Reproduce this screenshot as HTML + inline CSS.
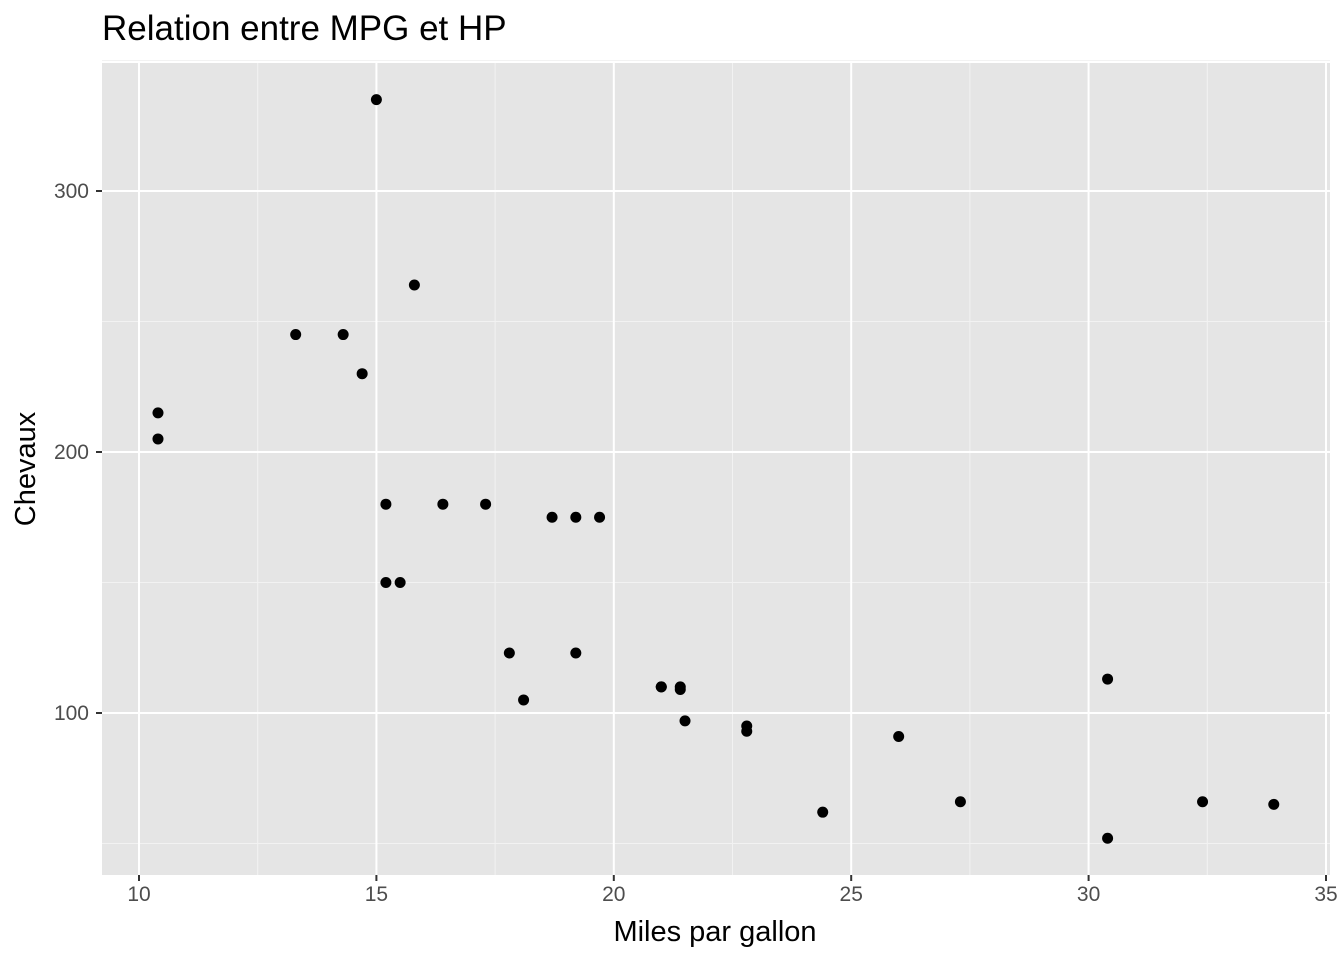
<!DOCTYPE html>
<html><head><meta charset="utf-8"><style>
body{margin:0;background:#fff;}
svg{display:block;font-family:"Liberation Sans",Arial,sans-serif;}
</style></head><body>
<svg id="chart" width="1344" height="960" viewBox="0 0 1344 960">
<text x="102" y="40" font-size="35" fill="#000">Relation entre MPG et HP</text>
<rect x="102" y="63" width="1228" height="812" fill="#e5e5e5"/>
<g id="grid"></g><g id="points"></g><g id="axes"></g>
<text x="715" y="941" font-size="29" text-anchor="middle">Miles par gallon</text>
<text transform="translate(35,469) rotate(-90)" font-size="29" text-anchor="middle">Chevaux</text>
</svg>
<script>
const mpg=[21,21,22.8,21.4,18.7,18.1,14.3,24.4,22.8,19.2,17.8,16.4,17.3,15.2,10.4,10.4,14.7,32.4,30.4,33.9,21.5,15.5,15.2,13.3,19.2,27.3,26,30.4,15.8,19.7,15,21.4];
const hp=[110,110,93,110,175,105,245,62,95,123,123,180,180,180,205,215,230,66,52,65,97,150,150,245,175,66,91,113,264,175,335,109];
const xTicks=[10,15,20,25,30,35];
const yTicks=[100,200,300];
const NS="http://www.w3.org/2000/svg";
const x=v=>139+(v-10)*47.48;
const y=v=>713-(v-100)*2.61;
const grid=document.getElementById('grid'),pts=document.getElementById('points'),ax=document.getElementById('axes');
function mk(tag,at,parent){const e=document.createElementNS(NS,tag);for(const k in at)e.setAttribute(k,at[k]);parent.appendChild(e);return e;}
for(let i=0;i<xTicks.length-1;i++){const m=(xTicks[i]+xTicks[i+1])/2;
const l=mk('line',{x1:x(m),x2:x(m),y1:63,y2:875,stroke:'#f2f2f2','stroke-width':1},grid);

}
for(let i=0;i<yTicks.length;i++){for(const m of [yTicks[i]-50,yTicks[i]+50]){if(i>0&&m===yTicks[i]-50)continue;
const l=mk('line',{x1:102,x2:1330,y1:y(m),y2:y(m),stroke:'#f2f2f2','stroke-width':1},grid);

}}
xTicks.forEach(t=>{const l=mk('line',{x1:x(t),x2:x(t),y1:63,y2:875,stroke:'#fff','stroke-width':2},grid);


const tk=mk('line',{x1:x(t),x2:x(t),y1:875,y2:881,stroke:'#333','stroke-width':2},ax);


const tx=mk('text',{x:x(t),y:901,'font-size':21,fill:'#4d4d4d','text-anchor':'middle'},ax);tx.textContent=t;

});
yTicks.forEach(t=>{const l=mk('line',{x1:102,x2:1330,y1:y(t),y2:y(t),stroke:'#fff','stroke-width':2},grid);


const tk=mk('line',{x1:96,x2:102,y1:y(t),y2:y(t),stroke:'#333','stroke-width':2},ax);


const tx=mk('text',{x:89,y:y(t)+7,'font-size':21,fill:'#4d4d4d','text-anchor':'end'},ax);tx.textContent=t;

});
mpg.forEach((m,i)=>{const c=mk('circle',{cx:x(m),cy:y(hp[i]),r:5.5,fill:'#000'},pts);

});
</script>
</body></html>
